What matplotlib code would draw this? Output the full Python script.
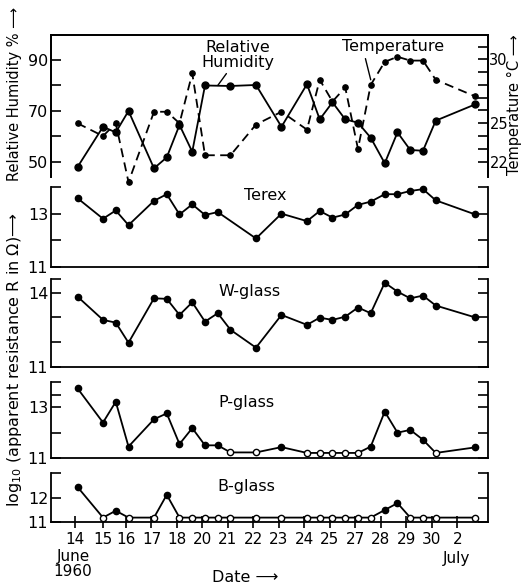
import numpy as np
import matplotlib.pyplot as plt
from matplotlib.ticker import FixedLocator

W, H = 523, 587

# measurement times in date-axis units (14 June = 0)
day_pos = [0.1, 1.1, 1.6, 2.1, 3.1, 3.6, 4.1, 4.6, 5.1, 5.6, 6.1, 7.1, 8.1,
           9.1, 9.6, 10.1, 10.6, 11.1, 11.6, 12.15, 12.65, 13.15, 13.65,
           14.15, 15.7]
date_ticks = [0, 1.1, 2, 3, 4, 5, 6, 7, 8, 9, 10, 11, 12, 13, 14, 15]
date_labels = ['14', '15', '16', '17', '18', '20', '21', '22', '23', '24',
               '25', '27', '28', '29', '30', '2']

nan = np.nan
humidity = [48, 63.8, 61.6, 70, 47.5, 51.8, 64.5, 54, 80, nan, 79.8, 80.2,
            63.8, 80.5, 66.7, 73.4, 66.7, 65.4, 59.5, 49.5, 61.6, 54.7, 54.4,
            66.2, 72.6]
temperature = [25.0, 24.0, 25.0, 20.4, 25.9, 25.9, 25.0, 28.9, 22.5, nan,
               22.5, 24.9, 25.9, 24.5, 28.4, 26.7, 27.8, 23.0, 28.0, 29.8,
               30.2, 29.9, 29.9, 28.4, 27.1]
terex = [13.58, 12.81, 13.12, 12.57, 13.48, 13.73, 12.97, 13.35, 12.95, 13.06,
         nan, 12.07, 13.0, 12.72, 13.1, 12.85, 12.97, 13.33, 13.45, 13.73,
         13.73, 13.85, 13.92, 13.5, 12.97]
w_glass = [13.84, 12.9, 12.79, 11.98, 13.77, 13.75, 13.1, 13.61, 12.83, 13.17,
           12.5, 11.78, 13.1, 12.7, 12.99, 12.9, 13.03, 13.4, 13.17, 14.4,
           14.04, 13.77, 13.88, 13.48, 13.0]
p_glass = [13.75, 12.4, 13.22, 11.45, 12.53, 12.76, 11.55, 12.18, 11.5, 11.5,
           11.22, 11.22, 11.43, 11.2, 11.2, 11.2, 11.2, 11.2, 11.45, 12.83,
           12.0, 12.11, 11.72, 11.2, 11.42]
p_open = [0, 0, 0, 0, 0, 0, 0, 0, 0, 0, 1, 1, 0, 1, 1, 1, 1, 1, 0, 0, 0, 0, 0,
          1, 0]
b_glass = [12.43, 11.18, 11.46, 11.18, 11.18, 12.11, 11.18, 11.18, 11.18,
           11.18, 11.18, 11.18, 11.18, 11.18, 11.18, 11.18, 11.18, 11.18,
           11.18, 11.49, 11.77, 11.18, 11.18, 11.18, 11.18]
b_open = [0, 1, 0, 1, 1, 0, 1, 1, 1, 1, 1, 1, 1, 1, 1, 1, 1, 1, 1, 0, 0, 1, 1,
          1, 1]

plt.rcParams['font.family'] = 'DejaVu Sans'


def rect(top, bottom, left=51, right=488):
    return [left / W, 1 - bottom / H, (right - left) / W, (bottom - top) / H]


def px(x, y):
    return x / W, 1 - y / H


def style_y(ax, lim, major, minor, side='left', size=11.5):
    ax.set_ylim(*lim)
    ax.yaxis.set_major_locator(FixedLocator(major))
    ax.yaxis.set_minor_locator(FixedLocator(minor))
    ax.tick_params(axis='y', which='both', direction='in', length=7,
                   width=1.2, labelsize=size, pad=2)
    if side == 'both':
        ax.tick_params(axis='y', which='both', left=True, right=True,
                       labelright=False)


def series(ax, y, open_flags=None, ms=4.5, **kw):
    x = np.array(day_pos)
    y = np.array(y, dtype=float)
    m = np.isfinite(y)
    ax.plot(x[m], y[m], color='black', lw=1.3, clip_on=False, **kw)
    if open_flags is None:
        ax.plot(x[m], y[m], 'o', color='black', ms=ms, clip_on=False)
    else:
        o = np.array(open_flags, dtype=bool)
        ax.plot(x[~o], y[~o], 'o', color='black', ms=ms, clip_on=False,
                zorder=3)
        ax.plot(x[o], y[o], 'o', mfc='white', mec='black', mew=1.0,
                ms=ms, clip_on=False, zorder=3)


fig = plt.figure(figsize=(W / 100, H / 100), dpi=100)
xlim = (-0.94, 16.2)

# humidity / temperature
ax0 = fig.add_axes(rect(35, 177))
ax0.set_xlim(*xlim)
ax0.spines['bottom'].set_visible(False)
ax0.set_xticks([])
style_y(ax0, (44.1, 99.8), [50, 70, 90], [60, 80])
series(ax0, humidity, ms=5)
ax0t = ax0.twinx()
ax0t.spines['bottom'].set_visible(False)
style_y(ax0t, (20.8, 31.9), [22, 25, 30], [23, 24, 26, 27, 28, 29, 31],
        size=10.5)
ax0t.tick_params(axis='y', pad=1)
series(ax0t, temperature, ms=3.8, ls=(0, (5, 3)))
for ax in (ax0, ax0t):
    for s in ax.spines.values():
        s.set_linewidth(1.3)

ax0.annotate('Relative\nHumidity',
             xy=((day_pos[8] + day_pos[10]) / 2, humidity[8]),
             xytext=(238, H - 55), textcoords='figure pixels', ha='center',
             va='center', fontsize=11.5, linespacing=0.95,
             arrowprops=dict(arrowstyle='-', lw=1.0, color='black',
                             shrinkA=1, shrinkB=0, relpos=(0.38, 0)))
ax0t.annotate('Temperature', xy=(day_pos[18], temperature[18] + 0.4),
              xytext=(393, H - 47), textcoords='figure pixels', ha='center',
              va='center', fontsize=11.5,
              arrowprops=dict(arrowstyle='-', lw=1.0, color='black',
                              shrinkA=1, shrinkB=0, relpos=(0.22, 0)))

panels = [
    ('Terex', terex, None, (187, 267), (11, 14), [11, 13], [12, 14], (265, 196)),
    ('W-glass', w_glass, None, (279, 367), (11, 14.55), [11, 14],
     [12, 13, 14.55], (250, 292)),
    ('P-glass', p_glass, p_open, (382, 458), (11, 14), [11, 13],
     [12, 13.5, 14], (246, 403)),
    ('B-glass', b_glass, b_open, (473, 522), (11, 13), [11, 12], [13],
     (246, 487)),
]
axes = []
for name, vals, opens, (top, bot), lim, major, minor, (tx, ty) in panels:
    ax = fig.add_axes(rect(top, bot))
    ax.set_xlim(*xlim)
    ax.spines['top'].set_visible(False)
    for s in ax.spines.values():
        s.set_linewidth(1.3)
    style_y(ax, lim, major, minor, side='both')
    ax.set_xticks([])
    series(ax, vals, opens)
    fig.text(*px(tx, ty), name, ha='center', va='center', fontsize=11.5)
    axes.append(ax)

axb = axes[-1]
axb.set_xticks(date_ticks)
axb.set_xticklabels(date_labels)
axb.tick_params(axis='x', direction='inout', length=9, width=1.2,
                labelsize=11, pad=3)

fig.text(*px(73, 564), 'June\n1960', ha='center', va='center', fontsize=11,
         linespacing=0.95)
fig.text(*px(457, 558), 'July', ha='center', va='center', fontsize=11)
fig.text(*px(245, 578), 'Date \u27f6', ha='center', va='center',
         fontsize=11.5)

fig.text(*px(15, 94), 'Relative Humidity % \u27f6', rotation=90,
         ha='center', va='center', fontsize=10.5)
fig.text(*px(15, 360), 'log$_{10}$ (apparent resistance R in $\\Omega$)\u27f6',
         rotation=90, ha='center', va='center', fontsize=11.5)
fig.text(*px(514, 105), 'Temperature \u00b0C \u27f6', rotation=90,
         ha='center', va='center', fontsize=10.5)

fig.savefig('out.png', dpi=100)
